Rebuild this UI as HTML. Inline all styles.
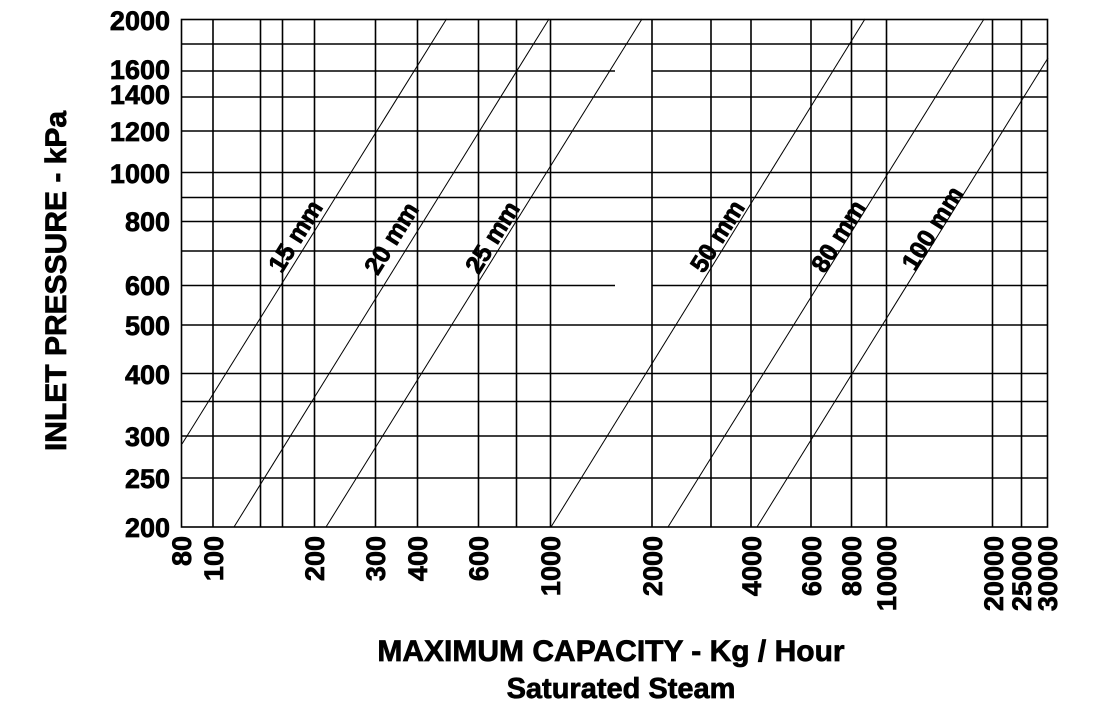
<!DOCTYPE html>
<html><head><meta charset="utf-8"><style>
body{margin:0;background:#fff}
svg{display:block}
text{font-family:"Liberation Sans",Arial,sans-serif;font-weight:bold;fill:#000;stroke:#000;stroke-width:0.7px}
</style></head><body>
<svg width="1094" height="703" viewBox="0 0 1094 703" xmlns="http://www.w3.org/2000/svg">
<g stroke="#000" stroke-width="1.6" fill="none">
<rect x="181.5" y="19.5" width="866" height="507.5"/>
<line x1="213" y1="19" x2="213" y2="527"/>
<line x1="260.5" y1="19" x2="260.5" y2="527"/>
<line x1="282.5" y1="19" x2="282.5" y2="527"/>
<line x1="314.5" y1="19" x2="314.5" y2="527"/>
<line x1="375.5" y1="19" x2="375.5" y2="527"/>
<line x1="417.5" y1="19" x2="417.5" y2="527"/>
<line x1="478.5" y1="19" x2="478.5" y2="527"/>
<line x1="516.5" y1="19" x2="516.5" y2="527"/>
<line x1="550.5" y1="19" x2="550.5" y2="527"/>
<line x1="652" y1="19" x2="652" y2="527"/>
<line x1="711" y1="19" x2="711" y2="527"/>
<line x1="751" y1="19" x2="751" y2="527"/>
<line x1="811" y1="19" x2="811" y2="527"/>
<line x1="851.5" y1="19" x2="851.5" y2="527"/>
<line x1="886.5" y1="19" x2="886.5" y2="527"/>
<line x1="992.5" y1="19" x2="992.5" y2="527"/>
<line x1="1021.5" y1="19" x2="1021.5" y2="527"/>
<line x1="181" y1="44" x2="1048" y2="44"/>
<line x1="181" y1="71" x2="615" y2="71"/>
<line x1="652" y1="71" x2="1048" y2="71"/>
<line x1="181" y1="97" x2="1048" y2="97"/>
<line x1="181" y1="131" x2="1048" y2="131"/>
<line x1="181" y1="172.5" x2="1048" y2="172.5"/>
<line x1="181" y1="197.5" x2="1048" y2="197.5"/>
<line x1="181" y1="221.5" x2="1048" y2="221.5"/>
<line x1="181" y1="251" x2="1048" y2="251"/>
<line x1="181" y1="285.5" x2="615" y2="285.5"/>
<line x1="652" y1="285.5" x2="1048" y2="285.5"/>
<line x1="181" y1="325" x2="1048" y2="325"/>
<line x1="181" y1="373.5" x2="1048" y2="373.5"/>
<line x1="181" y1="401.5" x2="1048" y2="401.5"/>
<line x1="181" y1="436" x2="1048" y2="436"/>
<line x1="181" y1="478" x2="1048" y2="478"/>
</g>
<g stroke="#000" stroke-width="1" fill="none">
<line x1="182" y1="444" x2="446.5" y2="19"/>
<line x1="234" y1="527" x2="549" y2="19"/>
<line x1="326" y1="527" x2="642" y2="19"/>
<line x1="551" y1="527" x2="865" y2="19"/>
<line x1="668" y1="527" x2="984" y2="19"/>
<line x1="757" y1="527" x2="1048" y2="58"/>
</g>
<g font-size="25" text-anchor="middle">
<text transform="translate(295,236) rotate(-58)" dy="9">15 mm</text>
<text transform="translate(391,238) rotate(-58)" dy="9">20 mm</text>
<text transform="translate(492,237) rotate(-58)" dy="9">25 mm</text>
<text transform="translate(717,236) rotate(-58)" dy="9">50 mm</text>
<text transform="translate(838,236) rotate(-58)" dy="9">80 mm</text>
<text transform="translate(932,228) rotate(-58)" dy="9">100 mm</text>
</g>
<g font-size="27" text-anchor="end">
<text x="170" y="30">2000</text>
<text x="170" y="79">1600</text>
<text x="170" y="104">1400</text>
<text x="170" y="141">1200</text>
<text x="170" y="183">1000</text>
<text x="170" y="231">800</text>
<text x="170" y="295">600</text>
<text x="170" y="335">500</text>
<text x="170" y="384">400</text>
<text x="170" y="446">300</text>
<text x="170" y="488">250</text>
<text x="170" y="537">200</text>
</g>
<g font-size="27" text-anchor="end">
<text transform="translate(191,536) rotate(-90)">80</text>
<text transform="translate(223,536) rotate(-90)">100</text>
<text transform="translate(324,536) rotate(-90)">200</text>
<text transform="translate(385,536) rotate(-90)">300</text>
<text transform="translate(427,536) rotate(-90)">400</text>
<text transform="translate(488,536) rotate(-90)">600</text>
<text transform="translate(560,536) rotate(-90)">1000</text>
<text transform="translate(662,536) rotate(-90)">2000</text>
<text transform="translate(761,536) rotate(-90)">4000</text>
<text transform="translate(821,536) rotate(-90)">6000</text>
<text transform="translate(861,536) rotate(-90)">8000</text>
<text transform="translate(896,536) rotate(-90)">10000</text>
<text transform="translate(1003,536) rotate(-90)">20000</text>
<text transform="translate(1031,536) rotate(-90)">25000</text>
<text transform="translate(1057,536) rotate(-90)">30000</text>
</g>
<text transform="translate(66,281) rotate(-90)" font-size="30" text-anchor="middle">INLET PRESSURE - kPa</text>
<text x="611" y="661" font-size="30" text-anchor="middle">MAXIMUM CAPACITY - Kg / Hour</text>
<text x="621" y="698" font-size="29" text-anchor="middle">Saturated Steam</text>
</svg>
</body></html>
